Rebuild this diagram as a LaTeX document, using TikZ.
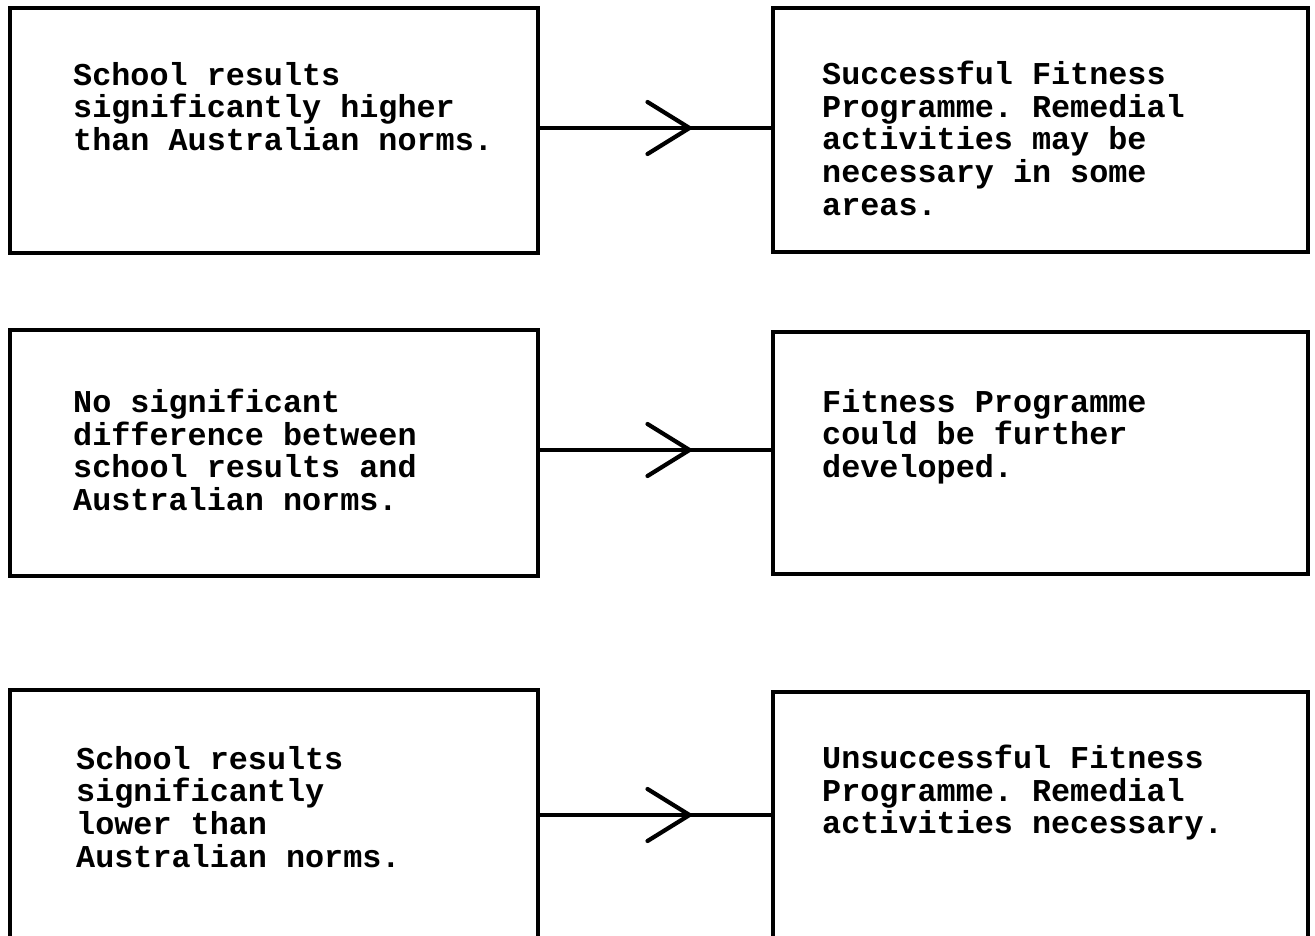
\documentclass[tikz,border=0pt]{standalone}
\usepackage{fontspec}
\setmainfont{Liberation Mono}
\usetikzlibrary{decorations.markings}
\tikzset{
  box/.style={draw, line width=3.6pt, rectangle, inner sep=0pt},
  txt/.style={anchor=north west, inner sep=0pt, align=left,
    font=\fontsize{31.8pt}{32.6pt}\selectfont\bfseries\frenchspacing},
  flow/.style={line width=3.6pt, postaction={decorate},
    decoration={markings, mark=at position #1 with {
      \draw[line width=4.2pt, line cap=round, line join=miter] (-42pt,26pt) -- (0pt,0pt) -- (-42pt,-26pt);}}}
}
\begin{document}
\begin{tikzpicture}[x=1pt, y=-1pt]
\useasboundingbox (0,0) rectangle (1315,936);
\clip (0,0) rectangle (1315,936);
% row 1
\node[box, minimum width=528pt, minimum height=245pt] (A1) at (274,130.5) {};
\node[box, minimum width=535pt, minimum height=244pt] (B1) at (1040.5,130) {};
\node[txt] (tA1) at (73,62) {School results\\significantly higher\\than Australian norms.};
\node[txt] (tB1) at (822,61) {Successful Fitness\\Programme. Remedial\\activities may be\\necessary in some\\areas.};
% row 2
\node[box, minimum width=528pt, minimum height=246pt] (A2) at (274,453) {};
\node[box, minimum width=535pt, minimum height=242pt] (B2) at (1040.5,453) {};
\node[txt] (tA2) at (73,389) {No significant\\difference between\\school results and\\Australian norms.};
\node[txt] (tB2) at (822,389) {Fitness Programme\\could be further\\developed.};
% row 3 (bottom edges lie below the picture)
\node[box, minimum width=528pt, minimum height=270pt] (A3) at (274,825) {};
\node[box, minimum width=535pt, minimum height=270pt] (B3) at (1040.5,827) {};
\node[txt] (tA3) at (76,746) {School results\\significantly\\lower than\\Australian norms.};
\node[txt] (tB3) at (822,745) {Unsuccessful Fitness\\Programme. Remedial\\activities necessary.};
% connectors
\coordinate (r1) at (0,128);
\coordinate (r2) at (0,450);
\coordinate (r3) at (0,815);
\draw[flow=0.647] (A1.east |- r1) -- (B1.west |- r1);
\draw[flow=0.647] (A2.east |- r2) -- (B2.west |- r2);
\draw[flow=0.647] (A3.east |- r3) -- (B3.west |- r3);
\end{tikzpicture}
\end{document}
